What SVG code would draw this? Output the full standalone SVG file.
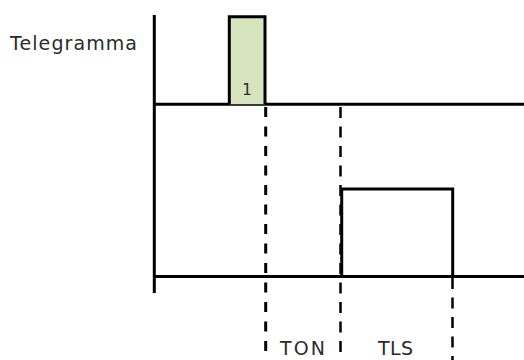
<svg xmlns="http://www.w3.org/2000/svg" width="524" height="360" viewBox="0 0 524 360">
<style>
.t{font-family:"DejaVu Sans","Liberation Sans",sans-serif;fill:#2b2b2b}
.s{stroke:#000;stroke-width:3;fill:none}
.d1{stroke:#000;stroke-width:3;stroke-dasharray:10 9.5;fill:none}
.d2{stroke:#000;stroke-width:2.5;stroke-dasharray:11 8.5;fill:none}
</style>
<rect width="524" height="360" fill="#fff"/>
<g id="axes">
<line class="s" x1="154.3" y1="15" x2="154.3" y2="293"/>
<line class="s" x1="154.3" y1="104.3" x2="524" y2="104.3"/>
<line class="s" x1="154.3" y1="276.5" x2="524" y2="276.5"/>
</g>
<g id="connectors">
<line class="d1" x1="265.7" y1="107" x2="265.7" y2="360"/>
<line class="d2" x1="340.5" y1="107" x2="340.5" y2="360"/>
<line class="d2" x1="452.5" y1="278" x2="452.5" y2="360"/>
</g>
<g id="pulse1">
<path d="M229.3,104.3 V16.7 H265 V104.3" fill="#d7e4bd" stroke="#000" stroke-width="3"/>
<text class="t" x="247" y="95" font-size="15" text-anchor="middle">1</text>
</g>
<g id="pulse2">
<path class="s" d="M341.7,276.5 V189 H452.7 V276.5"/>
</g>
<g id="labels">
<text class="t" x="10" y="49.5" font-size="19" textLength="127" lengthAdjust="spacing">Telegramma</text>
<text class="t" x="280" y="355" font-size="19" textLength="45" lengthAdjust="spacing">TON</text>
<text class="t" x="378" y="355" font-size="19" textLength="35" lengthAdjust="spacing">TLS</text>
</g>
</svg>
